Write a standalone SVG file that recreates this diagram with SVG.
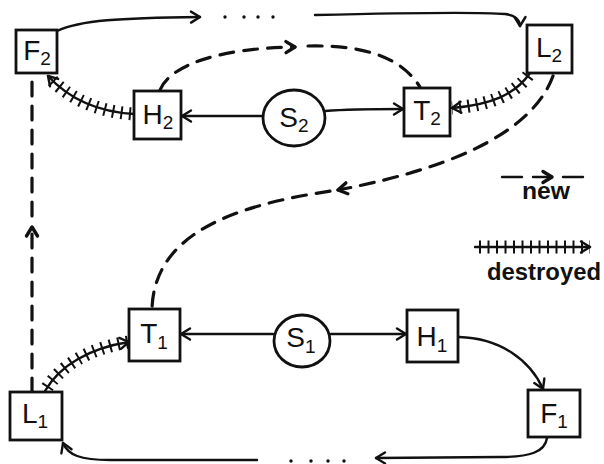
<svg xmlns="http://www.w3.org/2000/svg" xmlns:xlink="http://www.w3.org/1999/xlink" width="604" height="464" viewBox="0 0 604 464">
  <style>
    .box { fill: #fff; stroke: #111; stroke-width: 2.8; }
    .lbl { font-family: "Liberation Sans", Arial, sans-serif; font-size: 28px; fill: #111; text-anchor: middle; }
    .sub { font-size: 19px; }
    .edge { fill: none; stroke: #111; stroke-width: 2.4; stroke-linecap: round; }
    .arrow { marker-end: url(#head); }
    .hatch { fill: none; stroke: #111; stroke-width: 13; stroke-dasharray: 2 6.5; }
    .new { fill: none; stroke: #111; stroke-width: 3.2; stroke-dasharray: 14 10; stroke-linecap: round; }
    .legend { font-family: "Liberation Sans", Arial, sans-serif; font-size: 23px; font-weight: bold; fill: #111; }
  </style>
  <defs>
    <marker id="head" markerUnits="userSpaceOnUse" markerWidth="14" markerHeight="14" refX="11" refY="7" orient="auto" overflow="visible">
      <path d="M2,1.5 L11,7 L2,12.5" fill="none" stroke="#111" stroke-width="2.4" stroke-linecap="round" stroke-linejoin="round"/>
    </marker>
    <marker id="headNew" markerUnits="userSpaceOnUse" markerWidth="14" markerHeight="14" refX="11" refY="7" orient="auto" overflow="visible">
      <path d="M2,1.5 L11,7 L2,12.5" fill="none" stroke="#111" stroke-width="3.4" stroke-linecap="round" stroke-linejoin="round"/>
    </marker>
    <path id="dH2F2" d="M134,114 C100,112 70,100 48,76"/>
    <path id="dL2T2" d="M530,73 C515,95 490,105 452,108"/>
    <path id="dL1T1" d="M45,391 C60,365 90,348 129,342"/>
    <path id="dLeg" d="M475,247 L590,247"/>
  </defs>

  <!-- connectors -->
  <g id="connectors">
    <!-- solid links -->
    <path class="edge arrow" d="M57,31 C80,20 120,18 200,17"/>
    <path class="edge arrow" d="M315,15 C400,13 480,12 505,14 C515,15 520,20 520,26"/>
    <path class="edge arrow" d="M263,116 L182,116"/>
    <path class="edge arrow" d="M325,111 C350,109 380,109 403,109"/>
    <path class="edge arrow" d="M273,334 L181,334"/>
    <path class="edge arrow" d="M331,334 L406,334"/>
    <path class="edge arrow" d="M459,337 C500,338 530,360 543,389"/>
    <path class="edge arrow" d="M547,438 C545,452 530,457 500,457 L376,458"/>
    <path class="edge arrow" d="M257,460 L110,460 C80,460 68,455 63,443"/>

    <!-- ellipsis dots -->
    <g fill="#111">
      <circle cx="225" cy="17" r="1.7"/>
      <circle cx="244" cy="17" r="1.7"/>
      <circle cx="258" cy="17" r="1.7"/>
      <circle cx="273" cy="17" r="1.7"/>
      <circle cx="291" cy="461" r="1.7"/>
      <circle cx="311" cy="461" r="1.7"/>
      <circle cx="328" cy="461" r="1.7"/>
      <circle cx="344" cy="461" r="1.7"/>
    </g>

    <!-- destroyed links (hatched) -->
    <use xlink:href="#dH2F2" class="edge arrow"/>
    <use xlink:href="#dH2F2" class="hatch" style="stroke-dashoffset:-3"/>
    <use xlink:href="#dL2T2" class="edge arrow"/>
    <use xlink:href="#dL2T2" class="hatch" style="stroke-dashoffset:-3"/>
    <use xlink:href="#dL1T1" class="edge arrow"/>
    <use xlink:href="#dL1T1" class="hatch" style="stroke-dashoffset:-4"/>

    <!-- new links (dashed, arrow midway) -->
    <path class="new" marker-end="url(#headNew)" d="M160,90 C170,65 220,48 295,47"/>
    <path class="new" d="M308,46 C360,45 400,55 420,87"/>
    <path class="new" marker-end="url(#headNew)" d="M553,76 C535,125 470,165 338,190"/>
    <path class="new" style="stroke-dashoffset:-8" d="M338,190 C230,205 155,235 152,308"/>
    <path class="new" marker-end="url(#headNew)" d="M32,392 L32,227"/>
    <path class="new" style="stroke-dashoffset:-6" d="M32,222 L32,75"/>
  </g>

  <!-- nodes -->
  <g id="F2"><rect class="box" x="16" y="30" width="41" height="43"/><text class="lbl" x="37" y="60">F<tspan class="sub" dy="5">2</tspan></text></g>
  <g id="H2"><rect class="box" x="134" y="91" width="47" height="48"/><text class="lbl" x="158" y="124">H<tspan class="sub" dy="5">2</tspan></text></g>
  <g id="S2"><ellipse class="box" cx="294" cy="118" rx="31" ry="28"/><text class="lbl" x="294" y="127">S<tspan class="sub" dy="5">2</tspan></text></g>
  <g id="T2"><rect class="box" x="404" y="88" width="46" height="48"/><text class="lbl" x="427" y="120">T<tspan class="sub" dy="5">2</tspan></text></g>
  <g id="L2"><rect class="box" x="527" y="25" width="45" height="48"/><text class="lbl" x="549" y="57">L<tspan class="sub" dy="5">2</tspan></text></g>
  <g id="T1"><rect class="box" x="129" y="309" width="51" height="52"/><text class="lbl" x="154" y="343">T<tspan class="sub" dy="6">1</tspan></text></g>
  <g id="S1"><ellipse class="box" cx="302" cy="341" rx="28" ry="26"/><text class="lbl" x="301" y="347">S<tspan class="sub" dy="6">1</tspan></text></g>
  <g id="H1"><rect class="box" x="407" y="310" width="51" height="52"/><text class="lbl" x="432" y="346">H<tspan class="sub" dy="6">1</tspan></text></g>
  <g id="L1"><rect class="box" x="10" y="392" width="52" height="48"/><text class="lbl" x="35" y="423">L<tspan class="sub" dy="5">1</tspan></text></g>
  <g id="F1"><rect class="box" x="528" y="390" width="52" height="47"/><text class="lbl" x="554" y="423">F<tspan class="sub" dy="5">1</tspan></text></g>

  <!-- legend -->
  <g id="legend">
    <path class="edge" stroke-width="3.2" d="M502,177 L522,177"/>
    <path class="edge" stroke-width="3.2" marker-end="url(#headNew)" d="M533,177 L552,177"/>
    <path class="edge" stroke-width="3.2" d="M563,177 L583,177"/>
    <text class="legend" x="522" y="199" textLength="48" lengthAdjust="spacingAndGlyphs">new</text>
    <use xlink:href="#dLeg" class="edge arrow"/>
    <use xlink:href="#dLeg" class="hatch" style="stroke-dashoffset:-4"/>
    <text class="legend" x="487" y="280" textLength="114" lengthAdjust="spacingAndGlyphs">destroyed</text>
  </g>
</svg>
